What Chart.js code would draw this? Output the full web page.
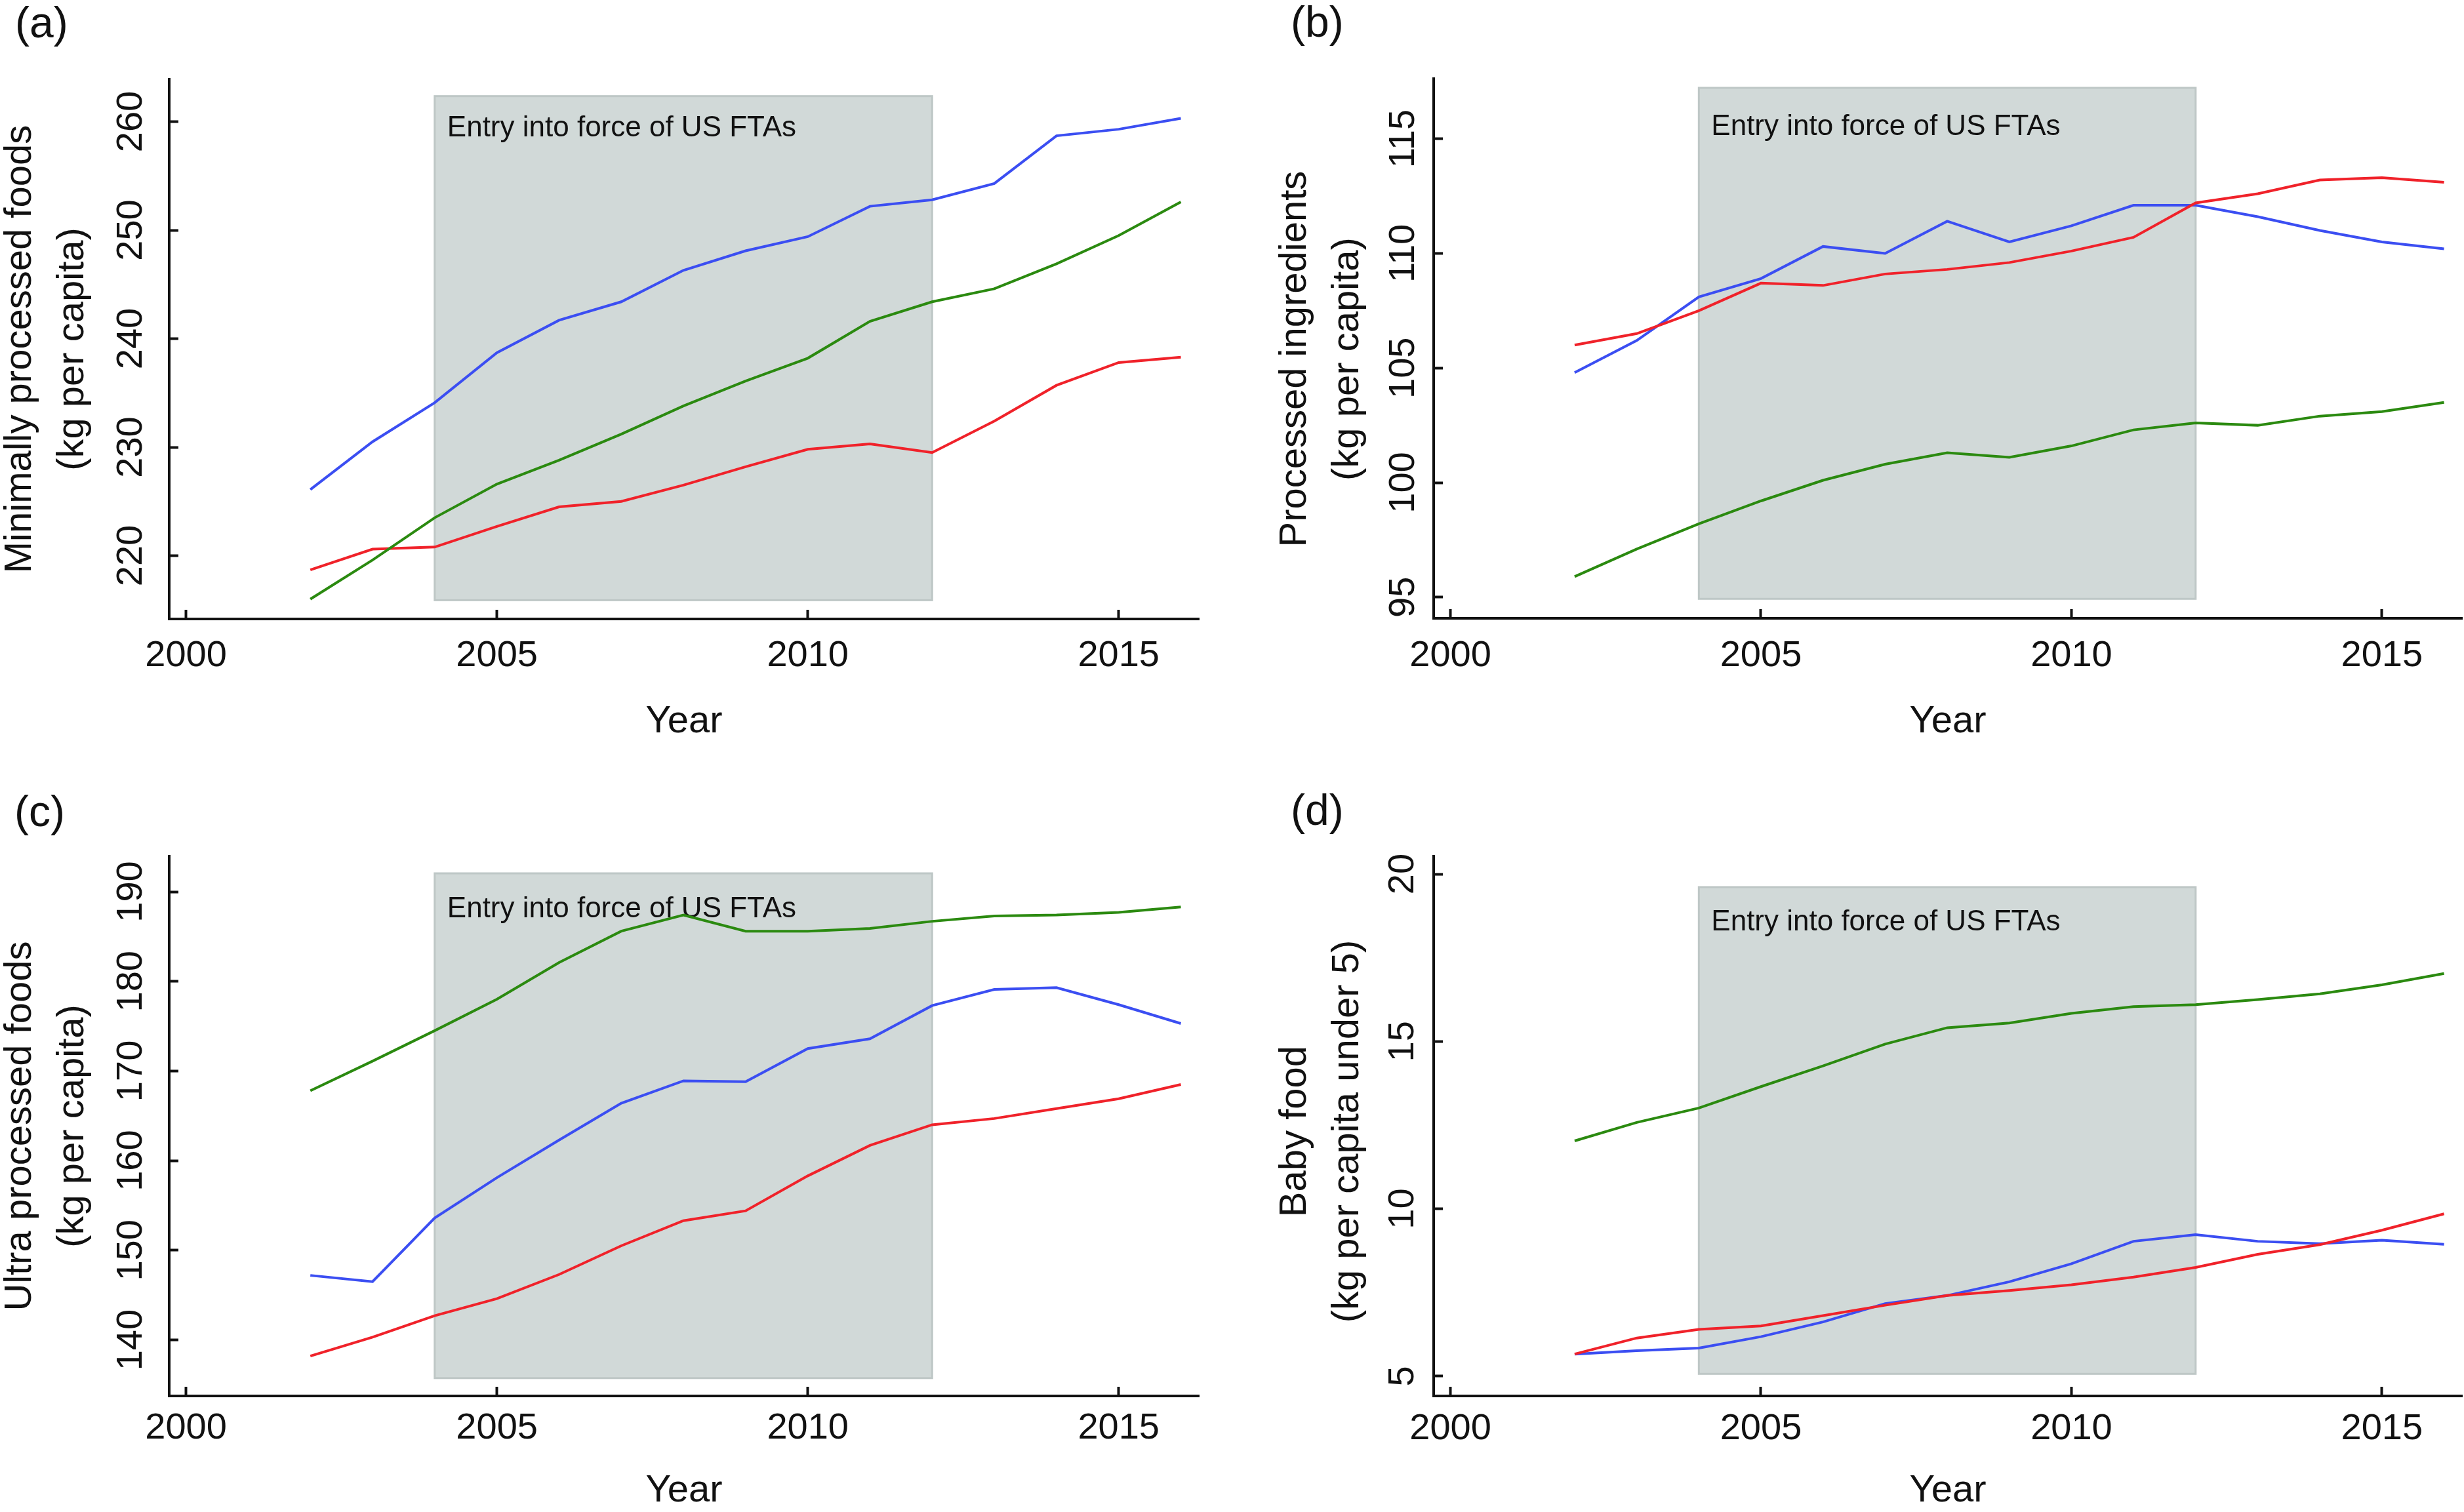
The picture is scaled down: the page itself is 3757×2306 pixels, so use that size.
<!DOCTYPE html>
<html>
<head>
<meta charset="utf-8">
<title>Food sales per capita, 2002-2016</title>
<script src="https://cdn.jsdelivr.net/npm/chart.js@4.4.1/dist/chart.umd.min.js"></script>
<style>
  html, body { margin: 0; padding: 0; background: #fff; }
  body { position: relative; width: 3757px; height: 2306px; overflow: hidden; font-family: 'Liberation Sans', Arial, sans-serif; }
  canvas { position: absolute; }
  .tag { position: absolute; font-size: 66px; line-height: 66px; color: #111; }
</style>
</head>
<body>
<div class="tag" style="left:23px;top:1px">(a)</div>
<div class="tag" style="left:1968px;top:0">(b)</div>
<div class="tag" style="left:22px;top:1204px">(c)</div>
<div class="tag" style="left:1968px;top:1202px">(d)</div>
<canvas id="chartA" width="1880" height="1150" style="left:0;top:0"></canvas>
<canvas id="chartB" width="1877" height="1150" style="left:1880px;top:0"></canvas>
<canvas id="chartC" width="1880" height="1156" style="left:0;top:1150px"></canvas>
<canvas id="chartD" width="1877" height="1156" style="left:1880px;top:1150px"></canvas>
<script>
const years = [2002, 2003, 2004, 2005, 2006, 2007, 2008, 2009, 2010, 2011, 2012, 2013, 2014, 2015, 2016];

// (a) minimally processed foods, kg per capita
const minimallyBlue = [226.1, 230.5, 234.1, 238.7, 241.7, 243.4, 246.3, 248.1, 249.4, 252.2, 252.8, 254.3, 258.7, 259.3, 260.3];
const minimallyGreen = [216.0, 219.6, 223.5, 226.6, 228.8, 231.2, 233.8, 236.1, 238.2, 241.6, 243.4, 244.6, 246.9, 249.5, 252.6];
const minimallyRed = [218.7, 220.6, 220.8, 222.7, 224.5, 225.0, 226.5, 228.2, 229.8, 230.3, 229.5, 232.4, 235.7, 237.8, 238.3];

// (b) processed ingredients
const ingredientsBlue = [104.8, 106.2, 108.1, 108.9, 110.3, 110.0, 111.4, 110.5, 111.2, 112.1, 112.1, 111.6, 111.0, 110.5, 110.2];
const ingredientsGreen = [95.9, 97.1, 98.2, 99.2, 100.1, 100.8, 101.3, 101.1, 101.6, 102.3, 102.6, 102.5, 102.9, 103.1, 103.5];
const ingredientsRed = [106.0, 106.5, 107.5, 108.7, 108.6, 109.1, 109.3, 109.6, 110.1, 110.7, 112.2, 112.6, 113.2, 113.3, 113.1];

// (c) ultra processed foods
const ultraBlue = [147.2, 146.5, 153.6, 158.1, 162.3, 166.4, 168.9, 168.8, 172.5, 173.6, 177.3, 179.1, 179.3, 177.4, 175.3];
const ultraGreen = [167.8, 171.1, 174.5, 178.0, 182.1, 185.6, 187.4, 185.6, 185.6, 185.9, 186.7, 187.3, 187.4, 187.7, 188.3];
const ultraRed = [138.2, 140.3, 142.7, 144.6, 147.3, 150.5, 153.3, 154.4, 158.3, 161.7, 164.0, 164.7, 165.8, 166.9, 168.5];

// (d) baby food, kg per capita under 5
const babyBlue = [5.66, 5.76, 5.84, 6.18, 6.62, 7.17, 7.41, 7.82, 8.36, 9.03, 9.23, 9.03, 8.96, 9.06, 8.94];
const babyGreen = [12.03, 12.58, 13.01, 13.65, 14.27, 14.92, 15.41, 15.55, 15.84, 16.04, 16.10, 16.25, 16.42, 16.69, 17.03];
const babyRed = [5.66, 6.14, 6.40, 6.50, 6.81, 7.12, 7.41, 7.56, 7.73, 7.96, 8.25, 8.64, 8.93, 9.36, 9.85];

// axes and the FTA window
const xRange = [1999.73, 2016.29];
const xStep = 5;
const yTitles = [
  ['Minimally processed foods', '(kg per capita)'],
  ['Processed ingredients', '(kg per capita)'],
  ['Ultra processed foods', '(kg per capita)'],
  ['Baby food', '(kg per capita under 5)'],
];
const yRanges = [[214.17, 263.9], [94.08, 117.62], [133.75, 193.95], [4.41, 20.53]];
const ySteps = [10, 5, 10, 5];
const ftaYears = [2004, 2012];
const shadeRanges = [[215.9, 262.35], [94.93, 117.22], [135.74, 192.05], [5.07, 19.61]];
const shadeLabelY = [259.4, 115.5, 188.0, 18.56];
const shadeLabel = 'Entry into force of US FTAs';

const FONT = "'Liberation Sans', Arial, sans-serif";
const BLUE = '#3b4ef2';
const RED = '#f0222a';
const GREEN = '#2b8a10';

Chart.defaults.font.family = FONT;
Chart.defaults.color = '#111';

// pixel geometry of each panel inside its canvas; titleNudge pads the
// rotated y title so it sits a little lower, as in the original
const layouts = [
  { id: 'chartA', plotLeft: 258, padRight: 52, padTop: 121, xHeight: 186, padBottom: 20, yTickPad: 25, xTickPad: 43, yTitlePad: -9, titleNudge: 0 },
  { id: 'chartB', plotLeft: 306, padRight: 3, padTop: 120, xHeight: 187, padBottom: 20, yTickPad: 13, xTickPad: 44, yTitlePad: 55, titleNudge: 2 },
  { id: 'chartC', plotLeft: 258, padRight: 52, padTop: 156, xHeight: 174, padBottom: 3, yTickPad: 25, xTickPad: 36, yTitlePad: -9, titleNudge: 0 },
  { id: 'chartD', plotLeft: 306, padRight: 3, padTop: 156, xHeight: 174, padBottom: 3, yTickPad: 29, xTickPad: 37, yTitlePad: 55, titleNudge: 1 },
];
const panelSeries = [
  [minimallyBlue, minimallyGreen, minimallyRed],
  [ingredientsBlue, ingredientsGreen, ingredientsRed],
  [ultraBlue, ultraGreen, ultraRed],
  [babyBlue, babyGreen, babyRed],
];

const ftaShade = {
  id: 'ftaShade',
  beforeDatasetsDraw(chart, args, opts) {
    const { ctx, scales: { x, y } } = chart;
    const left = x.getPixelForValue(opts.from);
    const right = x.getPixelForValue(opts.to);
    const top = y.getPixelForValue(opts.high);
    const bottom = y.getPixelForValue(opts.low);
    ctx.save();
    ctx.fillStyle = '#d1d9d8';
    ctx.fillRect(left, top, right - left, bottom - top);
    ctx.strokeStyle = '#bec7c6';
    ctx.lineWidth = 3;
    ctx.strokeRect(left, top, right - left, bottom - top);
    ctx.fillStyle = '#111';
    ctx.font = `44px ${FONT}`;
    ctx.textBaseline = 'middle';
    ctx.fillText(opts.label, left + 19, y.getPixelForValue(opts.labelY));
    ctx.restore();
  },
};

function toPoints(values) {
  return values.map((v, i) => ({ x: years[i], y: v }));
}

function makeLine(values, color) {
  return {
    data: toPoints(values),
    borderColor: color,
    backgroundColor: color,
    borderWidth: 4,
    pointRadius: 0,
    tension: 0,
    fill: false,
  };
}

layouts.forEach((lay, idx) => {
  const [blue, green, red] = panelSeries[idx];
  const pad = '\u00a0'.repeat(lay.titleNudge);
  new Chart(document.getElementById(lay.id), {
    type: 'line',
    data: { datasets: [makeLine(green, GREEN), makeLine(red, RED), makeLine(blue, BLUE)] },
    plugins: [ftaShade],
    options: {
      responsive: false,
      animation: false,
      devicePixelRatio: 1,
      layout: { padding: { left: 0, right: lay.padRight, top: lay.padTop, bottom: lay.padBottom } },
      plugins: {
        legend: { display: false },
        tooltip: { enabled: false },
        ftaShade: {
          from: ftaYears[0],
          to: ftaYears[1],
          low: shadeRanges[idx][0],
          high: shadeRanges[idx][1],
          labelY: shadeLabelY[idx],
          label: shadeLabel,
        },
      },
      scales: {
        x: {
          type: 'linear',
          min: xRange[0],
          max: xRange[1],
          afterFit(scale) { scale.height = lay.xHeight; },
          border: { display: true, color: '#111', width: 4 },
          grid: { drawOnChartArea: false, drawTicks: true, tickLength: -14, tickWidth: 4, tickColor: '#111' },
          ticks: {
            stepSize: xStep,
            includeBounds: false,
            padding: lay.xTickPad,
            font: { size: 56, lineHeight: 1 },
            color: '#111',
            callback: (v) => String(v),
          },
          title: { display: true, text: 'Year', font: { size: 58, lineHeight: 1 }, padding: 0, color: '#111' },
        },
        y: {
          type: 'linear',
          min: yRanges[idx][0],
          max: yRanges[idx][1],
          afterFit(scale) { scale.width = lay.plotLeft; },
          border: { display: true, color: '#111', width: 4 },
          grid: { drawOnChartArea: false, drawTicks: true, tickLength: -14, tickWidth: 4, tickColor: '#111' },
          ticks: {
            stepSize: ySteps[idx],
            includeBounds: false,
            minRotation: 90,
            maxRotation: 90,
            crossAlign: 'center',
            padding: lay.yTickPad,
            font: { size: 56 },
            color: '#111',
            callback: (v) => String(v),
          },
          title: {
            display: true,
            text: yTitles[idx].map((t) => t + pad),
            font: { size: 58, lineHeight: 1.38 },
            padding: { top: lay.yTitlePad, bottom: 0 },
            color: '#111',
          },
        },
      },
    },
  });
});
</script>
</body>
</html>
